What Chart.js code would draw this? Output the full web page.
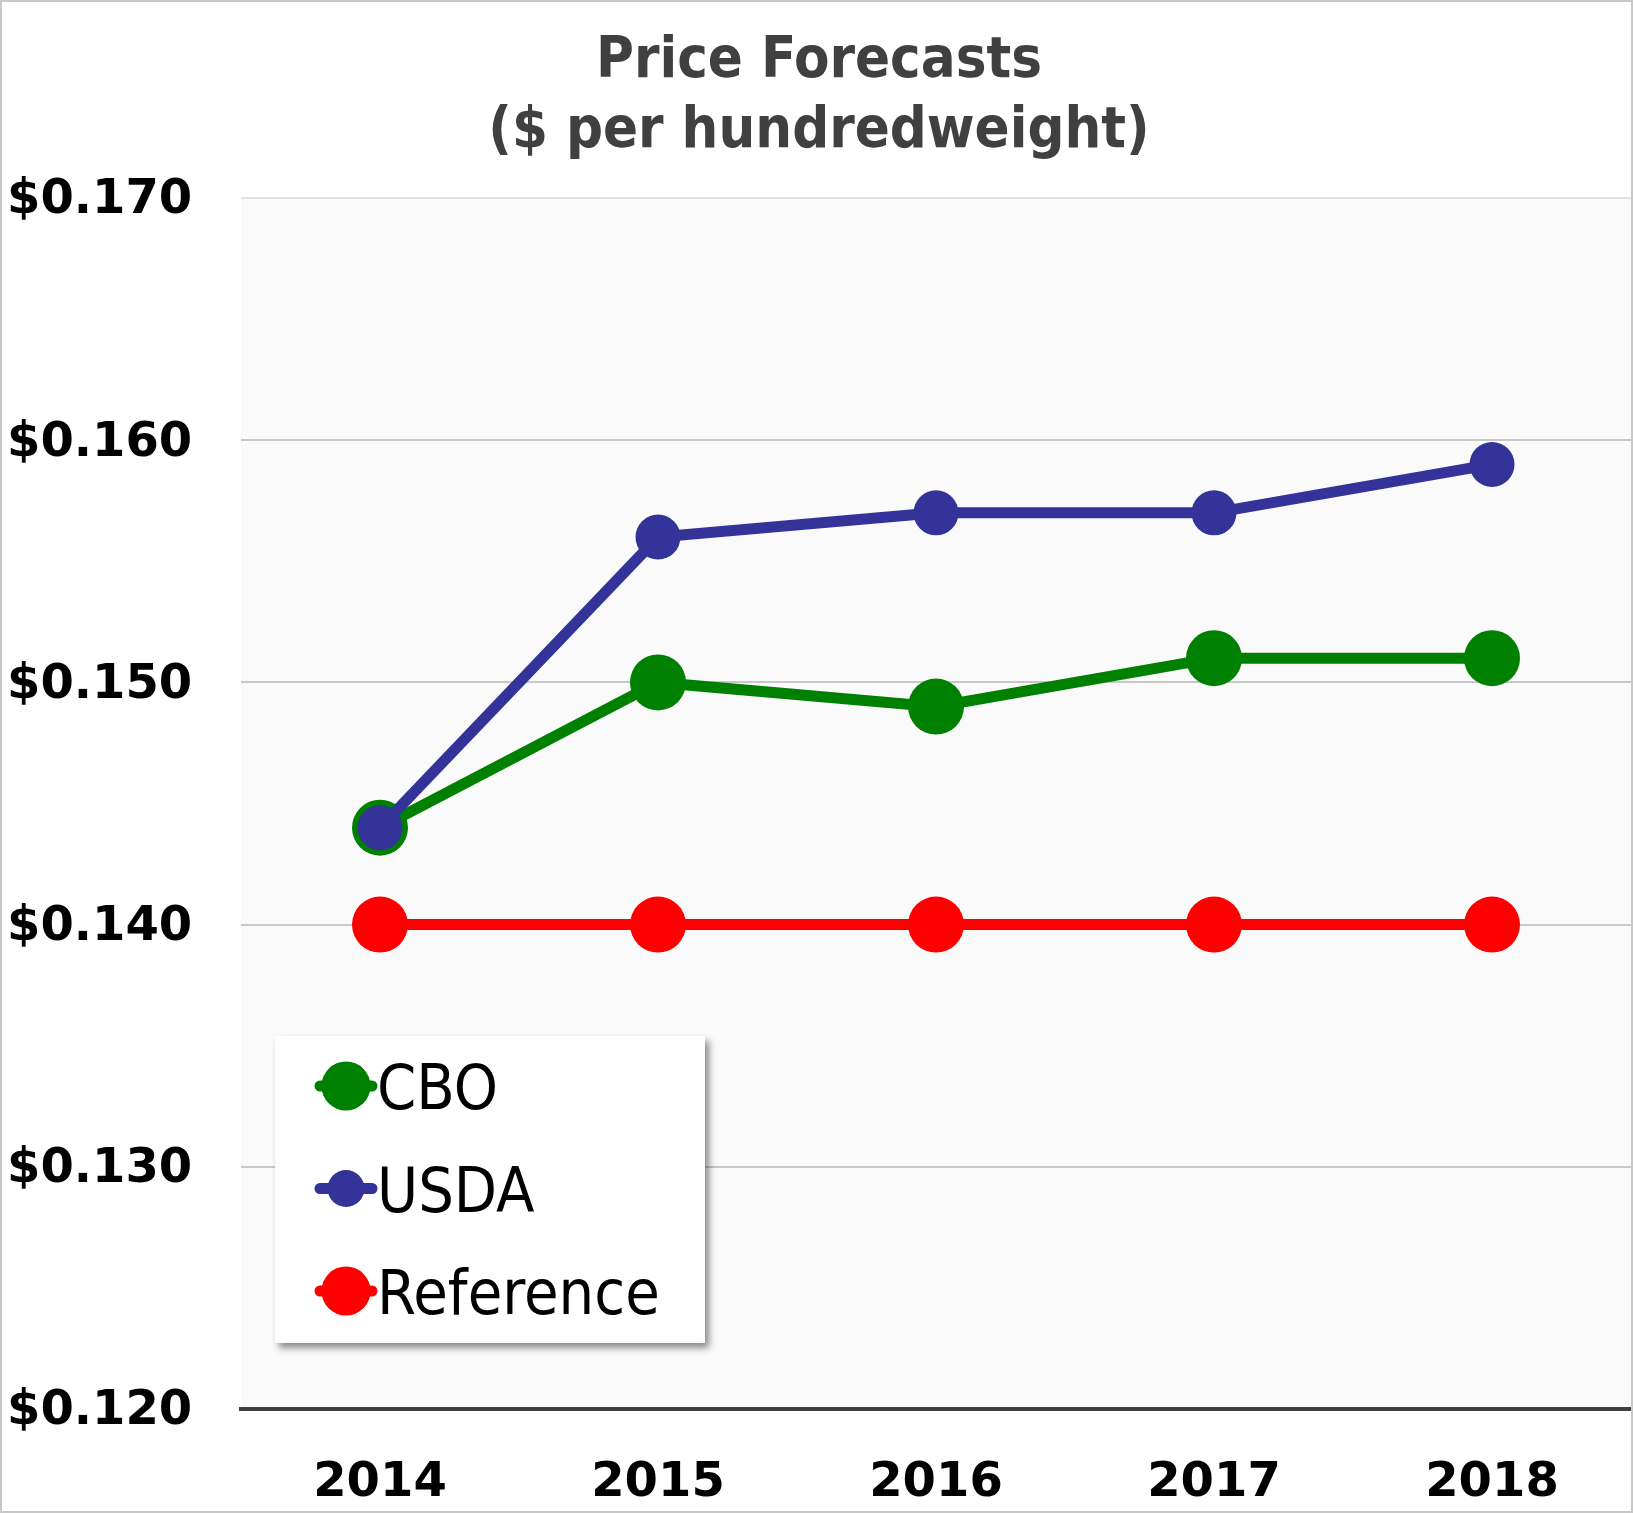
<!DOCTYPE html>
<html><head><meta charset="utf-8">
<script src="https://cdn.jsdelivr.net/npm/chart.js@4.4.1/dist/chart.umd.min.js"></script>
<style>html,body{margin:0;padding:0;background:#fff}#wrap{width:1633px;height:1513px}</style>
</head><body><div id="wrap"><canvas id="c" width="1633" height="1513"></canvas></div>
<script>
const years = ['2014', '2015', '2016', '2017', '2018'];
const cbo = [0.144, 0.150, 0.149, 0.151, 0.151];
const usda = [0.144, 0.156, 0.157, 0.157, 0.159];
const reference = [0.140, 0.140, 0.140, 0.140, 0.140];
const yTicks = [0.120, 0.130, 0.140, 0.150, 0.160, 0.170];
const titleLines = ['Price Forecasts', '($ per hundredweight)'];
const seriesNames = ['CBO', 'USDA', 'Reference'];
const seriesColors = ['#008000', '#333399', '#ff0000'];

const CONDENSED = '"DejaVu Sans Condensed", "Liberation Sans Narrow", "DejaVu Sans", sans-serif';
const TICKFONT = '"DejaVu Sans", Verdana, sans-serif';

const areaBg = {
  id: 'areaBg',
  beforeDraw(chart) {
    const {ctx, chartArea: a} = chart;
    ctx.save();
    ctx.fillStyle = '#fafafa';
    ctx.fillRect(a.left, a.top, a.right - a.left, a.bottom - a.top);
    ctx.restore();
  },
  afterDraw(chart) {
    const {ctx, width, height} = chart;
    ctx.save();
    ctx.strokeStyle = '#c8c8c8';
    ctx.lineWidth = 2;
    ctx.strokeRect(1, 1, width - 2, height - 2);
    ctx.restore();
  }
};

const customLegend = {
  id: 'customLegend',
  afterDatasetsDraw(chart) {
    const {ctx, chartArea: a} = chart;
    const bx = a.left + 34, by = a.top + 838, bw = 430, bh = 307;
    ctx.save();
    ctx.shadowColor = 'rgba(0,0,0,0.45)';
    ctx.shadowBlur = 7;
    ctx.shadowOffsetX = 4;
    ctx.shadowOffsetY = 5;
    ctx.fillStyle = '#ffffff';
    ctx.fillRect(bx, by, bw, bh);
    ctx.restore();
    const radii = [24.5, 18.5, 24.5];
    ctx.save();
    for (let i = 0; i < seriesNames.length; i++) {
      const cy = by + 50 + i * 102.5;
      const cx = bx + 71;
      ctx.strokeStyle = seriesColors[i];
      ctx.lineWidth = 11;
      ctx.lineCap = 'round';
      ctx.beginPath();
      ctx.moveTo(cx - 26, cy);
      ctx.lineTo(cx + 26, cy);
      ctx.stroke();
      ctx.fillStyle = seriesColors[i];
      ctx.beginPath();
      ctx.arc(cx, cy, radii[i], 0, Math.PI * 2);
      ctx.fill();
      ctx.fillStyle = '#000000';
      ctx.font = '62.5px ' + CONDENSED;
      ctx.textBaseline = 'alphabetic';
      ctx.textAlign = 'left';
      ctx.fillText(seriesNames[i], bx + 102, cy + 23);
    }
    ctx.restore();
  }
};

new Chart(document.getElementById('c'), {
  type: 'line',
  data: {
    labels: years,
    datasets: [
      {label: seriesNames[0], data: cbo, borderColor: seriesColors[0], backgroundColor: seriesColors[0],
       pointBackgroundColor: seriesColors[0], pointRadius: 28, pointBorderWidth: 0, borderWidth: 11, order: 1},
      {label: seriesNames[1], data: usda, borderColor: seriesColors[1], backgroundColor: seriesColors[1],
       pointBackgroundColor: seriesColors[1], pointRadius: 22.5, pointBorderWidth: 0, borderWidth: 11, order: 0},
      {label: seriesNames[2], data: reference, borderColor: seriesColors[2], backgroundColor: seriesColors[2],
       pointBackgroundColor: seriesColors[2], pointRadius: 28, pointBorderWidth: 0, borderWidth: 11, order: 2}
    ]
  },
  options: {
    responsive: false,
    animation: false,
    events: [],
    layout: {autoPadding: false, padding: {left: 7, right: 2, top: 0, bottom: 0}},
    plugins: {
      legend: {display: false},
      tooltip: {enabled: false},
      title: {
        display: true,
        text: titleLines,
        color: '#404040',
        font: {family: CONDENSED, size: 57.5, weight: 'bold', lineHeight: 70 / 57.5},
        padding: {top: 27, bottom: 31}
      }
    },
    scales: {
      x: {
        offset: true,
        grid: {display: false, drawTicks: false},
        border: {display: true, color: '#404040', width: 4},
        ticks: {color: '#000', font: {family: TICKFONT, size: 48, weight: 'bold'}, padding: 46, maxRotation: 0},
        afterFit(s) { s.height = 104; s.paddingLeft = 0; s.paddingRight = 0; }
      },
      y: {
        min: 0.12, max: 0.17,
        afterBuildTicks(s) { s.ticks = yTicks.map(v => ({value: v})); },
        grid: {
          drawTicks: false,
          lineWidth: 2,
          color: (c) => (c.tick && Math.abs(c.tick.value - 0.17) < 1e-9) ? '#e2e2e2' : '#c8c8c8'
        },
        border: {display: false},
        ticks: {
          color: '#000', crossAlign: 'far', labelOffset: 3,
          font: {family: TICKFONT, size: 48, weight: 'bold'},
          callback: (v) => '$' + Number(v).toFixed(3)
        },
        afterFit(s) { s.width = 234; s.paddingTop = 0; s.paddingBottom = 0; }
      }
    }
  },
  plugins: [areaBg, customLegend]
});
</script>
</body></html>
